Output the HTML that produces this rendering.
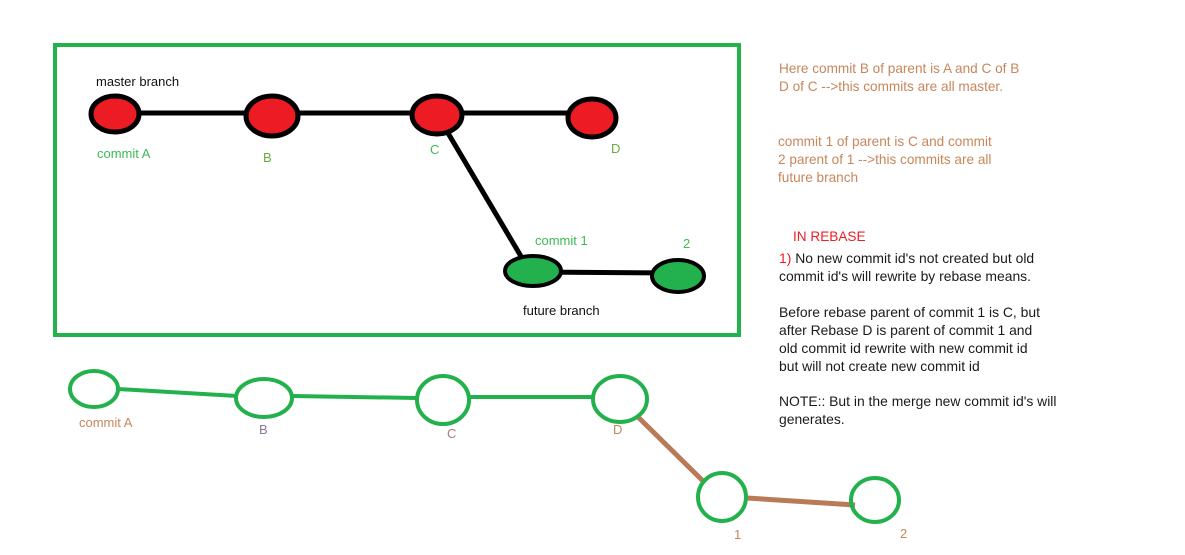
<!DOCTYPE html>
<html><head><meta charset="utf-8"><style>
html,body{margin:0;padding:0;background:#fff;width:1185px;height:555px;overflow:hidden}
svg text{font-family:"Liberation Sans",sans-serif;font-size:13px}
.r text{font-size:13.6px}
.k text{font-size:13.9px}
</style></head><body>
<svg width="1185" height="555" xmlns="http://www.w3.org/2000/svg">
<rect x="55" y="45" width="684" height="290" fill="none" stroke="#22b14c" stroke-width="4"/>
<g stroke="#000" stroke-width="5">
<line x1="115" y1="113" x2="592" y2="113"/>
<line x1="445" y1="128" x2="522" y2="258"/>
<line x1="533" y1="272" x2="678" y2="273"/>
</g>
<g fill="#ed1c24" stroke="#000" stroke-width="5">
<ellipse cx="115" cy="114" rx="24" ry="18"/>
<ellipse cx="272" cy="116" rx="26" ry="20"/>
<ellipse cx="437" cy="115" rx="25" ry="19"/>
<ellipse cx="592" cy="118" rx="24" ry="19"/>
</g>
<g fill="#22b14c" stroke="#000" stroke-width="4">
<ellipse cx="533" cy="271" rx="28" ry="15"/>
<ellipse cx="678" cy="276" rx="26" ry="16"/>
</g>
<text x="96" y="86" fill="#111">master branch</text>
<text x="97" y="158" fill="#3cba54">commit A</text>
<text x="263" y="162" fill="#6aad3a">B</text>
<text x="430" y="154" fill="#3cba54">C</text>
<text x="611" y="153" fill="#6aad3a">D</text>
<text x="535" y="245" fill="#3cba54">commit 1</text>
<text x="683" y="248" fill="#3cba54">2</text>
<text x="523" y="315" fill="#111">future branch</text>

<g stroke="#22b14c" stroke-width="4">
<line x1="118" y1="389" x2="237" y2="396"/>
<line x1="292" y1="396" x2="417" y2="398"/>
<line x1="469" y1="397" x2="593" y2="397"/>
</g>
<g stroke="#b97a57" stroke-width="5">
<line x1="638" y1="417" x2="703" y2="481"/>
<line x1="747" y1="498" x2="855" y2="505"/>
</g>
<g fill="none" stroke="#22b14c" stroke-width="4">
<ellipse cx="94" cy="389" rx="24" ry="18"/>
<ellipse cx="264" cy="398" rx="28" ry="19"/>
<ellipse cx="443" cy="400" rx="26" ry="24"/>
<ellipse cx="620" cy="399" rx="27" ry="23"/>
<ellipse cx="722" cy="497" rx="24" ry="24"/>
<ellipse cx="875" cy="500" rx="24" ry="22"/>
</g>
<text x="79" y="427" fill="#c8865a">commit A</text>
<text x="259" y="434" fill="#8a7a9a">B</text>
<text x="447" y="438" fill="#b07a7a">C</text>
<text x="613" y="434" fill="#c8865a">D</text>
<text x="734" y="539" fill="#c8865a">1</text>
<text x="900" y="538" fill="#c8865a">2</text>

<g fill="#c8865a" class="r">
<text x="779" y="73">Here commit B of parent is A and C of B</text>
<text x="779" y="91">D of C --&gt;this commits are all master.</text>
<text x="778" y="146">commit 1 of parent is C and commit</text>
<text x="778" y="164">2 parent of 1 --&gt;this commits are all</text>
<text x="778" y="182">future branch</text>
</g>
<g class="r"><text x="793" y="241" fill="#ed1c24">IN REBASE</text></g>
<g fill="#1a1a1a" class="k">
<text x="779" y="263"><tspan fill="#ed1c24">1)</tspan> No new commit id's not created but old</text>
<text x="779" y="281">commit id's will rewrite by rebase means.</text>
<text x="779" y="317">Before rebase parent of commit 1 is C, but</text>
<text x="779" y="335">after Rebase D is  parent of commit 1 and</text>
<text x="779" y="353">old commit id rewrite with new commit id</text>
<text x="779" y="371">but will not create new commit id</text>
<text x="779" y="406">NOTE:: But in the merge new commit id's will</text>
<text x="779" y="424">generates.</text>
</g>
</svg>
</body></html>
